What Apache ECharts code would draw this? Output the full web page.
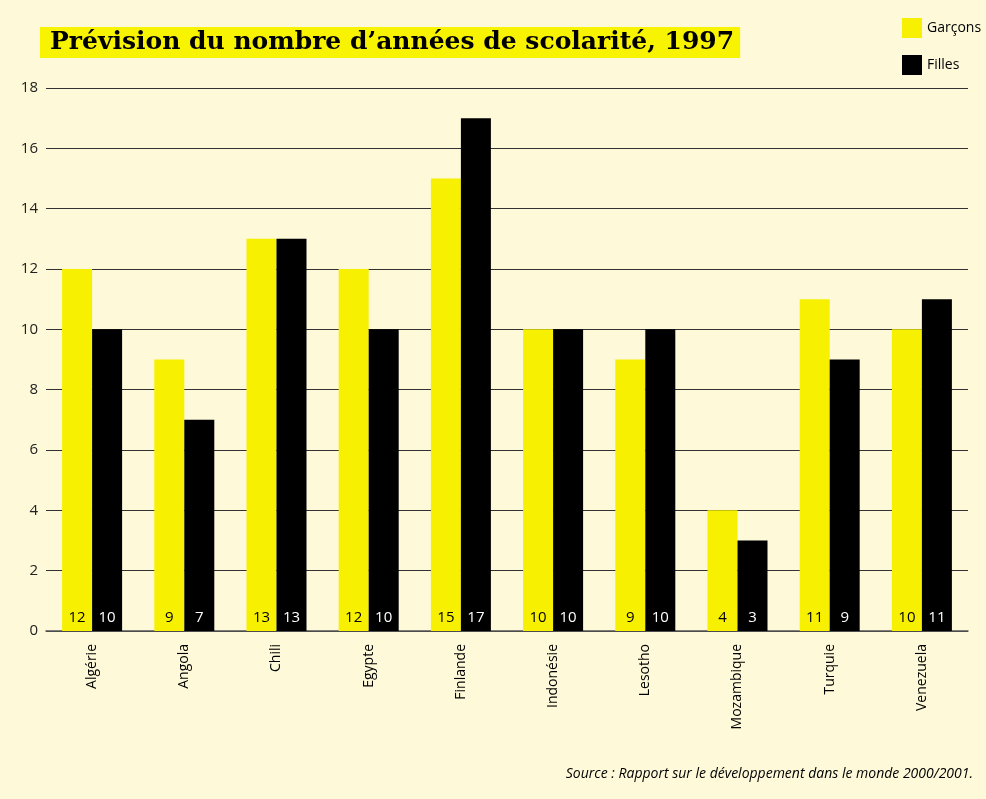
<!DOCTYPE html>
<html><head><meta charset="utf-8">
<script src="https://cdn.jsdelivr.net/npm/echarts@6/dist/echarts.min.js"></script>
<style>html,body{margin:0;padding:0;background:#fdf9d9;}#c{width:986px;height:799px;}</style>
</head><body><div id="c"></div>
<script>
const categories = ['Algérie','Angola','Chili','Egypte','Finlande','Indonésie','Lesotho','Mozambique','Turquie','Venezuela'];
const garcons = [12, 9, 13, 12, 15, 10, 9, 4, 11, 10];
const filles = [10, 7, 13, 10, 17, 10, 10, 3, 9, 11];
const yTicks = [0, 2, 4, 6, 8, 10, 12, 14, 16, 18];
const titleText = 'Prévision du nombre d\u2019années de scolarité, 1997';
const sourceText = 'Source : Rapport sur le développement dans le monde 2000/2001.';

const font = "'Open Sans', 'Liberation Sans', sans-serif";
const chart = echarts.init(document.getElementById('c'));
chart.setOption({
  backgroundColor: '#fdf9d9',
  animation: false,
  title: [{
    text: titleText,
    left: 40, top: 27,
    backgroundColor: '#f8f300',
    padding: [3, 6, 3, 10],
    textStyle: {fontFamily: "'DejaVu Serif', serif", fontWeight: 'bold', fontSize: 25, color: '#000'}
  }, {
    text: sourceText,
    right: 8, top: 762,
    textStyle: {fontFamily: font, fontStyle: 'italic', fontWeight: 'normal', fontSize: 14, color: '#000'}
  }],
  legend: {
    orient: 'vertical', left: 897, top: 13,
    itemWidth: 20, itemHeight: 20, itemGap: 17,
    icon: 'rect',
    textStyle: {fontFamily: font, fontSize: 14, color: '#000'},
    data: ['Garçons', 'Filles']
  },
  grid: {left: 46, right: 18, top: 88, bottom: 168},
  xAxis: {
    type: 'category', data: categories,
    axisLine: {show: true, lineStyle: {color: '#555', width: 1.5}},
    axisTick: {show: false},
    axisLabel: {rotate: 90, fontFamily: font, fontSize: 14, color: '#000', margin: 13}
  },
  yAxis: {
    type: 'value', min: 0, max: 18, interval: 2,
    axisLine: {show: false}, axisTick: {show: false},
    axisLabel: {fontFamily: font, fontSize: 15, color: '#222', margin: 8,
      formatter: v => yTicks.includes(v) ? String(v) : ''},
    splitLine: {lineStyle: {color: '#333', width: 1}}
  },
  series: [{
    name: 'Garçons', type: 'bar', data: garcons, barWidth: 30, barGap: '0%',
    itemStyle: {color: '#f7f000'},
    label: {show: true, position: 'insideBottom', distance: 6, color: '#000', fontFamily: font, fontSize: 15}
  }, {
    name: 'Filles', type: 'bar', data: filles, barWidth: 30,
    itemStyle: {color: '#000'},
    label: {show: true, position: 'insideBottom', distance: 6, color: '#fff', fontFamily: font, fontSize: 15}
  }]
});
</script></body></html>
